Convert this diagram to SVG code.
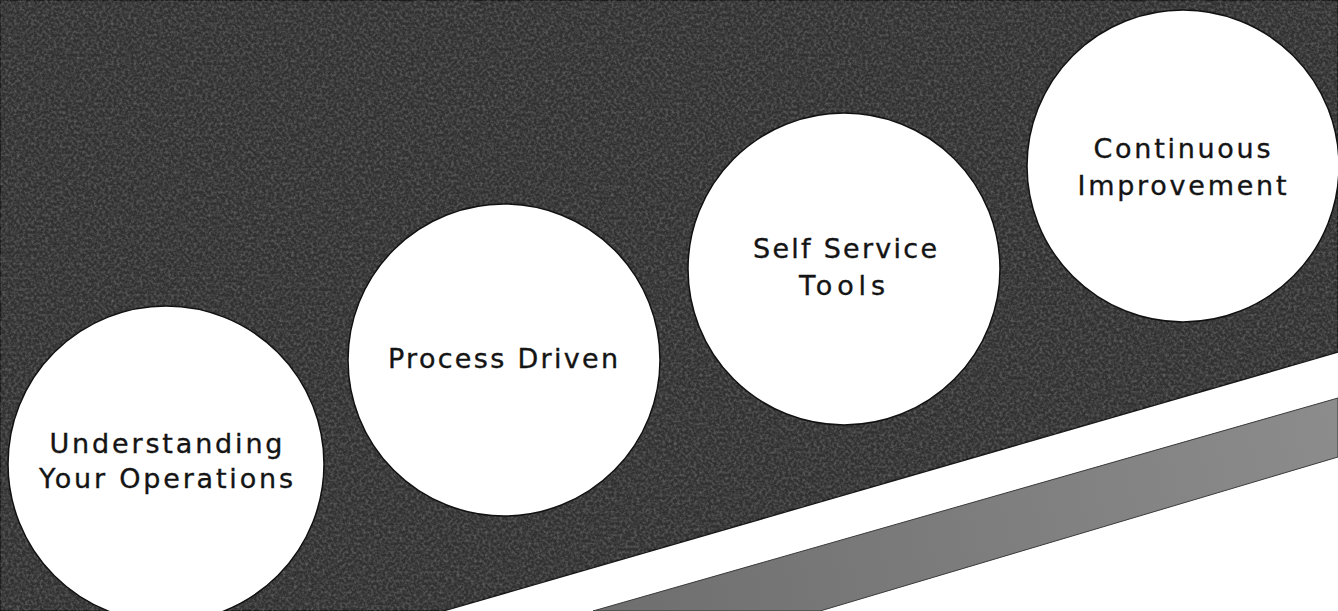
<svg xmlns="http://www.w3.org/2000/svg" width="1338" height="611" viewBox="0 0 1338 611">
  <style>
    .node circle { fill: #ffffff; stroke: #111111; stroke-width: 1.5; }
    .node text { font-family: "DejaVu Sans", "Liberation Sans", sans-serif; font-size: 27px; fill: #141414; stroke: #141414; stroke-width: 0.35; text-anchor: middle; }
  </style>
  <defs>
    <linearGradient id="greyBand" x1="593" y1="611" x2="1338" y2="420" gradientUnits="userSpaceOnUse">
      <stop offset="0" stop-color="#6e6e6e"/>
      <stop offset="1" stop-color="#8c8c8c"/>
    </linearGradient>
    <clipPath id="darkClip">
      <polygon points="0,0 1338,0 1338,352 443,611 0,611"/>
    </clipPath>
    <filter id="grain" x="0" y="0" width="100%" height="100%">
      <feTurbulence type="fractalNoise" baseFrequency="0.35" numOctaves="3" seed="7" result="t"/>
      <feColorMatrix in="t" type="matrix" values="0 0 0 0 1  0 0 0 0 1  0 0 0 0 1  0.45 0 0 0 -0.17"/>
    </filter>
  </defs>

  <!-- background -->
  <rect x="0" y="0" width="1338" height="611" fill="#ffffff"/>
  <polygon points="0,0 1338,0 1338,352 443,611 0,611" fill="#313131" stroke="#151515" stroke-width="1.5"/>
  <rect x="0" y="0" width="1338" height="611" filter="url(#grain)" clip-path="url(#darkClip)"/>
  <polygon points="593,611 1338,398 1338,457 820,611" fill="url(#greyBand)" stroke="#3a3a3a" stroke-width="1"/>

  <g id="node-understanding" class="node">
    <circle cx="166" cy="464" r="158"/>
    <text x="166" y="453" textLength="233" lengthAdjust="spacing">Understanding</text>
    <text x="166" y="488" textLength="254" lengthAdjust="spacing">Your Operations</text>
  </g>
  <g id="node-process" class="node">
    <circle cx="504" cy="360" r="156"/>
    <text x="503" y="368" textLength="230" lengthAdjust="spacing">Process Driven</text>
  </g>
  <g id="node-selfservice" class="node">
    <circle cx="844" cy="269" r="156"/>
    <text x="845" y="258" textLength="184" lengthAdjust="spacing">Self Service</text>
    <text x="842" y="295" textLength="86" lengthAdjust="spacing">Tools</text>
  </g>
  <g id="node-continuous" class="node">
    <circle cx="1183" cy="166" r="156"/>
    <text x="1182" y="158" textLength="177" lengthAdjust="spacing">Continuous</text>
    <text x="1182" y="195" textLength="209" lengthAdjust="spacing">Improvement</text>
  </g>

  <g id="connectors"></g>
</svg>
